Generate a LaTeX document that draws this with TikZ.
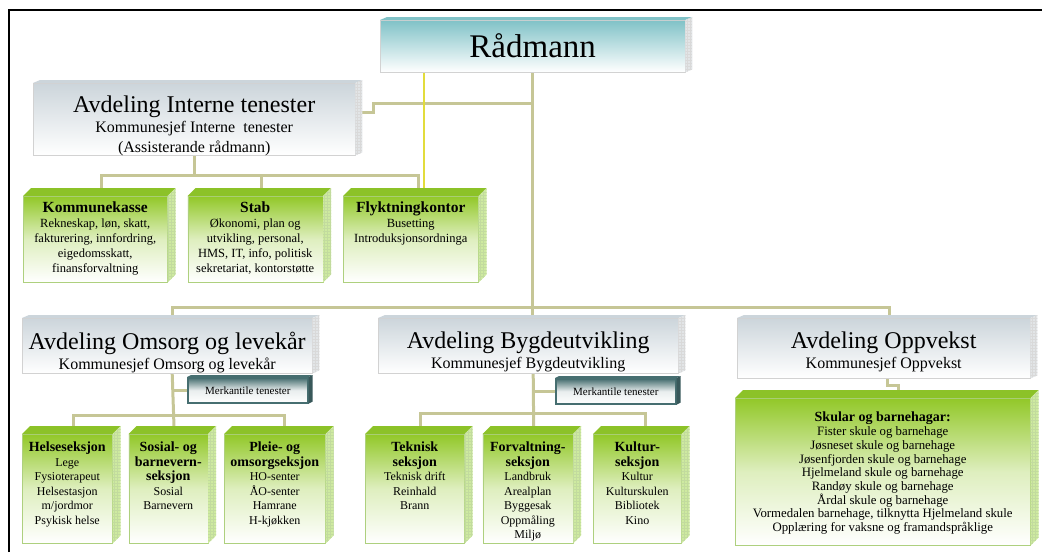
\documentclass[tikz,border=0pt]{standalone}
\usepackage{fontspec}
\setmainfont{Liberation Serif}
\usetikzlibrary{positioning,patterns}

\definecolor{radteal}{RGB}{128,194,199}
\definecolor{headgrey}{RGB}{204,213,219}
\definecolor{sidegrey}{RGB}{226,229,231}
\definecolor{leafgreen}{RGB}{146,200,40}
\definecolor{leaftop}{RGB}{140,194,40}
\definecolor{leafside}{RGB}{206,234,160}
\definecolor{leafgrid}{RGB}{120,176,40}
\definecolor{linekhaki}{RGB}{198,198,150}
\definecolor{lineyellow}{RGB}{226,220,60}
\definecolor{merkteal}{RGB}{70,110,112}

\pgfdeclarelayer{background}
\pgfsetlayers{background,main}

\newcommand{\radfont}{\fontsize{33}{36}\selectfont}
\newcommand{\headfont}{\fontsize{24}{26}\selectfont}
\newcommand{\chieffont}{\fontsize{16}{20}\selectfont}
\newcommand{\unithead}{\fontsize{15.5}{17}\selectfont\bfseries}
\newcommand{\unitbody}{\fontsize{12.5}{15}\selectfont}
\newcommand{\secthead}{\fontsize{14}{14.5}\selectfont\bfseries}
\newcommand{\sectbody}{\fontsize{12}{14.5}\selectfont}
\newcommand{\schoolbody}{\fontsize{12.8}{13.7}\selectfont}

% text block at the top of a box: width, height, top gap, text
\newcommand{\boxtxt}[4]{\parbox[c][#2][t]{#1}{\centering\vspace*{#3}#4}}

% raised top and right side of a box: node, dx, dy, kind
\newcommand{\boxdepth}[4]{%
  \fill[#4 top] (#1.north west) -- ++(#2,-#3)
    -- ([shift={(#2,-#3)}]#1.north east) -- (#1.north east) -- cycle;
  \fill[#4 side] (#1.north east) -- ++(#2,-#3)
    -- ([shift={(#2,-#3)}]#1.south east) -- (#1.south east) -- cycle;}

\begin{document}
\begin{tikzpicture}[x=1pt, y=-1pt,
    headbox/.style={anchor=north west, inner sep=0pt, draw=gray!35, line width=0.4pt,
      top color=headgrey, bottom color=white},
    radbox/.style={headbox, top color=radteal, bottom color=white},
    unitbox/.style={anchor=north west, inner sep=0pt, draw=leafgrid!60, line width=0.5pt,
      top color=leafgreen, bottom color=white, middle color=leafgreen!30},
    merkbox/.style={anchor=north west, draw=merkteal, line width=1.6pt, inner sep=0pt,
      minimum width=120pt, minimum height=25pt,
      top color=merkteal, bottom color=white, middle color=merkteal!12,
      font=\fontsize{11}{13}\selectfont},
    conn/.style={draw=linekhaki, line width=3pt},
    yconn/.style={draw=lineyellow, line width=2pt},
    grey top/.style={fill=headgrey},
    grey side/.style={fill=sidegrey, postaction={pattern=grid, pattern color=gray!30}},
    teal top/.style={fill=radteal},
    teal side/.style={grey side},
    green top/.style={fill=leaftop},
    green side/.style={fill=leafside, postaction={pattern=grid, pattern color=leafgrid!45}},
    merk top/.style={fill=merkteal},
    merk side/.style={fill=merkteal!80!black}
  ]
  \useasboundingbox (0,0) rectangle (1042,552);
  \draw[line width=2.4pt] (9,552) -- (9,10) -- (1042,10);

  % top level
  \node[radbox] (rad) at (380,20) {\boxtxt{305pt}{52pt}{13pt}{\radfont Rådmann}};
  \node[headbox] (int) at (33,83) {\boxtxt{322pt}{72pt}{13pt}{%
    {\headfont Avdeling Interne tenester\par}%
    {\chieffont Kommunesjef Interne\ \ tenester\\(Assisterande rådmann)\par}}};

  \node[unitbox] (kasse) at (23,196) {\boxtxt{144pt}{86pt}{5pt}{%
    {\unithead Kommunekasse\par}%
    {\unitbody Rekneskap, løn, skatt,\\fakturering, innfordring,\\eigedomsskatt,\\finansforvaltning\par}}};
  \node[unitbox, right=20pt of kasse] (stab) {\boxtxt{135pt}{86pt}{5pt}{%
    {\unithead Stab\par}%
    {\unitbody Økonomi, plan og\\utvikling, personal,\\HMS, IT, info, politisk\\sekretariat, kontorstøtte\par}}};
  \node[unitbox, right=20pt of stab] (flykt) {\boxtxt{135pt}{86pt}{5pt}{%
    {\unithead Flyktningkontor\par}%
    {\unitbody Busetting\\Introduksjonsordninga\par}}};

  % departments
  \node[headbox] (oms) at (22,318) {\boxtxt{290pt}{55pt}{14pt}{%
    {\headfont Avdeling Omsorg og levekår\par}%
    {\chieffont Kommunesjef Omsorg og levekår\par}}};
  \node[headbox] (byg) at (378,318) {\boxtxt{300pt}{55pt}{14pt}{%
    {\headfont Avdeling Bygdeutvikling\par}%
    {\chieffont Kommunesjef Bygdeutvikling\par}}};
  \node[headbox] (opp) at (737,318) {\boxtxt{293pt}{60pt}{14pt}{%
    {\headfont Avdeling Oppvekst\par}%
    {\chieffont Kommunesjef Oppvekst\par}}};

  \node[merkbox] (merk1) at (187,377) {Merkantile tenester};
  \node[merkbox] (merk2) at (555,378) {Merkantile tenester};

  % sections
  \node[unitbox] (helse) at (22,434) {\boxtxt{90pt}{109pt}{8pt}{%
    {\secthead Helseseksjon\par}%
    {\sectbody Lege\\Fysioterapeut\\Helsestasjon\\m/jordmor\\Psykisk helse\par}}};
  \node[unitbox, right=16pt of helse] (sosial) {\boxtxt{79pt}{109pt}{8pt}{%
    {\secthead Sosial- og\\barnevern-\\seksjon\par}%
    {\sectbody Sosial\\Barnevern\par}}};
  \node[unitbox, right=16pt of sosial] (pleie) {\boxtxt{101pt}{109pt}{8pt}{%
    {\secthead Pleie- og\\omsorgseksjon\par}%
    {\sectbody HO-senter\\ÅO-senter\\Hamrane\\H-kjøkken\par}}};

  \node[unitbox] (tek) at (365,434) {\boxtxt{99pt}{109pt}{8pt}{%
    {\secthead Teknisk\\seksjon\par}%
    {\sectbody Teknisk drift\\Reinhald\\Brann\par}}};
  \node[unitbox, right=18pt of tek] (forv) {\boxtxt{90pt}{109pt}{8pt}{%
    {\secthead Forvaltning-\\seksjon\par}%
    {\sectbody Landbruk\\Arealplan\\Byggesak\\Oppmåling\\Miljø\par}}};
  \node[unitbox, right=20pt of forv] (kult) {\boxtxt{88pt}{109pt}{8pt}{%
    {\secthead Kultur-\\seksjon\par}%
    {\sectbody Kultur\\Kulturskulen\\Bibliotek\\Kino\par}}};

  \node[unitbox] (skular) at (735,398) {\boxtxt{295pt}{147pt}{14pt}{%
    {\secthead Skular og barnehagar:\par}%
    {\schoolbody Fister skule og barnehage\\Jøsneset skule og barnehage\\
     Jøsenfjorden skule og barnehage\\Hjelmeland skule og barnehage\\
     Randøy skule og barnehage\\Årdal skule og barnehage\\
     Vormedalen barnehage, tilknytta Hjelmeland skule\\
     Opplæring for vaksne og framandspråklige\par}}};

  % raised sides
  \boxdepth{rad}{7}{3}{teal}
  \boxdepth{int}{7}{3}{grey}
  \boxdepth{oms}{7}{3}{grey}
  \boxdepth{byg}{7}{3}{grey}
  \boxdepth{opp}{7}{3}{grey}
  \boxdepth{merk1}{4}{2}{merk}
  \boxdepth{merk2}{4}{2}{merk}
  \foreach \n in {kasse,stab,flykt,helse,sosial,pleie,tek,forv,kult,skular}
    {\boxdepth{\n}{8}{8}{green}}

  % lines
  \begin{pgfonlayer}{background}
    \draw[conn] (rad.south) -- (rad.south |- byg.north);
    \draw[conn] ([yshift=7pt]int.east) -- ++(18,0) |- (rad.south |- 0,103);
    \draw[conn] ([xshift=5pt]oms.north) |- (rad.south |- 0,307) -| ([xshift=6pt]opp.north);
    \draw[yconn] ([xshift=13pt]flykt.north) -- ([xshift=13pt]flykt.north |- rad.south);

    \draw[conn] (int.south) -- ++(0,20) -| ([xshift=6pt]kasse.north);
    \draw[conn] (int.south) -- ++(0,20) -| ([xshift=6pt]stab.north);
    \draw[conn] (int.south) -- ++(0,20) -| ([xshift=8pt]flykt.north);

    \draw[conn] ([xshift=5pt]oms.south) -- ([xshift=6pt]sosial.north);
    \draw[conn] ([xshift=5pt]oms.south |- 0,415) -| ([xshift=6pt]helse.north);
    \draw[conn] ([xshift=5pt]oms.south |- 0,415) -| ([xshift=10pt]pleie.north);
    \draw[conn] (merk1.west) -- ([xshift=5pt]oms.south |- merk1.west);

    \draw[conn] ([xshift=5pt]byg.south) -- ([xshift=6pt]forv.north);
    \draw[conn] ([xshift=5pt]byg.south |- 0,413) -| ([xshift=6pt]tek.north);
    \draw[conn] ([xshift=5pt]byg.south |- 0,413) -| ([xshift=8pt]kult.north);
    \draw[conn] (merk2.west) -- ([xshift=5pt]byg.south |- merk2.west);

    \draw[conn] ([xshift=4pt]opp.south) -- ++(0,7) -| ([xshift=16pt]skular.north);
  \end{pgfonlayer}
\end{tikzpicture}
\end{document}
